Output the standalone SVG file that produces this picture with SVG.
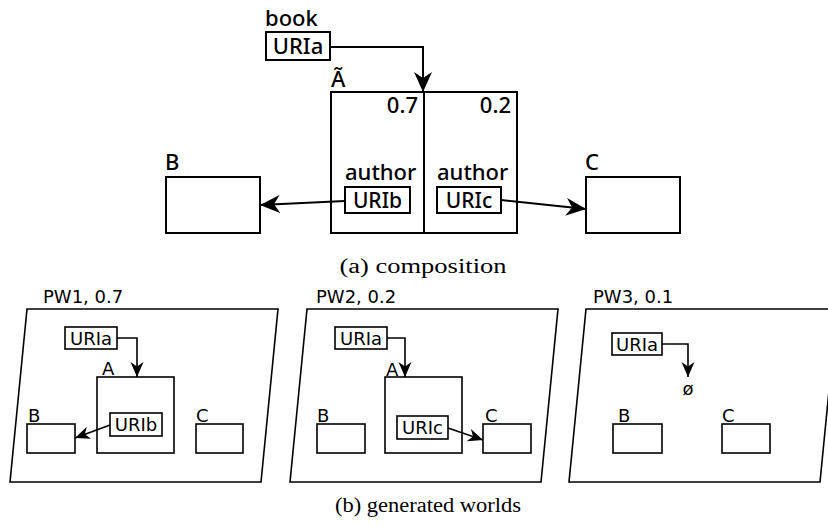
<svg xmlns="http://www.w3.org/2000/svg" width="828" height="527" viewBox="0 0 828 527">
<defs>
<style>
.bx{fill:#fff;stroke:#000;stroke-width:2}
.bs{fill:#fff;stroke:#000;stroke-width:1.6}
.pw{fill:#fff;stroke:#000;stroke-width:1.6}
.ln{fill:none;stroke:#000;stroke-width:2}
.ls{fill:none;stroke:#000;stroke-width:1.6}
.t{font-family:"Noto Sans","Open Sans",sans-serif;font-size:22px;font-weight:500;fill:#000}
.u{font-family:"Noto Sans","Open Sans",sans-serif;font-size:21px;font-weight:500;fill:#000}
.s{font-family:"DejaVu Sans",sans-serif;font-size:18px;fill:#000}
.c{font-family:"Liberation Serif",serif;font-size:20px;fill:#000}
</style>
<marker id="ab" viewBox="-20 -9.5 20 19" markerWidth="20" markerHeight="19" refX="0" refY="0" orient="auto" markerUnits="userSpaceOnUse">
<path d="M0,0 L-20,-9 L-14,0 L-20,9 Z" fill="#000"/>
</marker>
<marker id="as" viewBox="-15 -7 15 14" markerWidth="15" markerHeight="14" refX="0" refY="0" orient="auto" markerUnits="userSpaceOnUse">
<path d="M0,0 L-15,-6.5 L-10.5,0 L-15,6.5 Z" fill="#000"/>
</marker>
</defs>
<rect width="828" height="527" fill="#fff"/>

<!-- (a) composition -->
<g id="bookA">
<text class="t" x="265" y="26">book</text>
<rect class="bx" x="266" y="32" width="64" height="28"/>
<text class="t" x="298" y="54" text-anchor="middle">URIa</text>
</g>
<g id="nodeA">
<text class="t" x="331" y="87">Ã</text>
<rect class="bx" x="331" y="92" width="186" height="141"/>
<line class="ln" x1="424" y1="92" x2="424" y2="233"/>
<text class="t" x="418" y="113" text-anchor="end">0.7</text>
<text class="t" x="511" y="113" text-anchor="end">0.2</text>
<text class="t" x="345" y="179.5">author</text>
<rect class="bx" x="345" y="187" width="65" height="26"/>
<text class="u" x="377.5" y="208" text-anchor="middle">URIb</text>
<text class="t" x="437" y="179.5">author</text>
<rect class="bx" x="437" y="187" width="64" height="26"/>
<text class="u" x="469" y="208" text-anchor="middle">URIc</text>
</g>
<g id="nodeB">
<text class="t" x="165" y="170">B</text>
<rect class="bx" x="166" y="177" width="94" height="56"/>
</g>
<g id="nodeC">
<text class="t" x="585" y="170">C</text>
<rect class="bx" x="586" y="177" width="94" height="56"/>
</g>
<g id="connectors-a">
<path class="ln" d="M330,47 H423 V92" marker-end="url(#ab)"/>
<path class="ln" d="M345,201 L260,205" marker-end="url(#ab)"/>
<path class="ln" d="M501,200 L586,209" marker-end="url(#ab)"/>
</g>
<text class="c" x="423" y="273" text-anchor="middle" textLength="167" lengthAdjust="spacingAndGlyphs">(a) composition</text>

<!-- PW1 -->
<g id="pw1">
<text class="s" x="43" y="303">PW1, 0.7</text>
<polygon class="pw" points="27,309 278,309 261,482 10,482"/>
<rect class="bs" x="65" y="327" width="52" height="22"/>
<text class="s" x="91" y="345" text-anchor="middle">URIa</text>
<text class="s" x="102" y="375">A</text>
<rect class="bs" x="97" y="377" width="77" height="76"/>
<rect class="bs" x="110" y="413" width="52" height="23"/>
<text class="s" x="136" y="431" text-anchor="middle">URIb</text>
<text class="s" x="28" y="422">B</text>
<rect class="bs" x="27" y="424" width="48" height="29"/>
<text class="s" x="196" y="422">C</text>
<rect class="bs" x="196" y="424" width="47" height="29"/>
</g>
<!-- PW2 -->
<g id="pw2">
<text class="s" x="316" y="303">PW2, 0.2</text>
<polygon class="pw" points="307,309 558,309 541,482 290,482"/>
<rect class="bs" x="335" y="327" width="52" height="22"/>
<text class="s" x="361" y="345" text-anchor="middle">URIa</text>
<text class="s" x="386" y="376">A</text>
<rect class="bs" x="385" y="377" width="77" height="76"/>
<rect class="bs" x="397" y="416" width="51" height="23"/>
<text class="s" x="422.5" y="434" text-anchor="middle">URIc</text>
<text class="s" x="317" y="422">B</text>
<rect class="bs" x="317" y="424" width="48" height="29"/>
<text class="s" x="485" y="422">C</text>
<rect class="bs" x="483" y="424" width="48" height="29"/>
</g>
<!-- PW3 -->
<g id="pw3">
<text class="s" x="593" y="303">PW3, 0.1</text>
<polygon class="pw" points="586,309 837,309 820,482 569,482"/>
<rect class="bs" x="612" y="333" width="50" height="22"/>
<text class="s" x="637" y="351" text-anchor="middle">URIa</text>
<text class="s" x="688" y="395" text-anchor="middle" font-size="15">ø</text>
<text class="s" x="618" y="422">B</text>
<rect class="bs" x="613" y="424" width="49" height="29"/>
<text class="s" x="722" y="422">C</text>
<rect class="bs" x="722" y="424" width="48" height="29"/>
</g>
<g id="connectors-b">
<path class="ls" d="M117,338 H137 V377" marker-end="url(#as)"/>
<path class="ls" d="M110,425 L75,438" marker-end="url(#as)"/>
<path class="ls" d="M387,338 H405 V377" marker-end="url(#as)"/>
<path class="ls" d="M448,428 L483,440" marker-end="url(#as)"/>
<path class="ls" d="M662,344 H688 V377" marker-end="url(#as)"/>
</g>
<text class="c" x="428" y="512" text-anchor="middle" textLength="186" lengthAdjust="spacingAndGlyphs">(b) generated worlds</text>
</svg>
